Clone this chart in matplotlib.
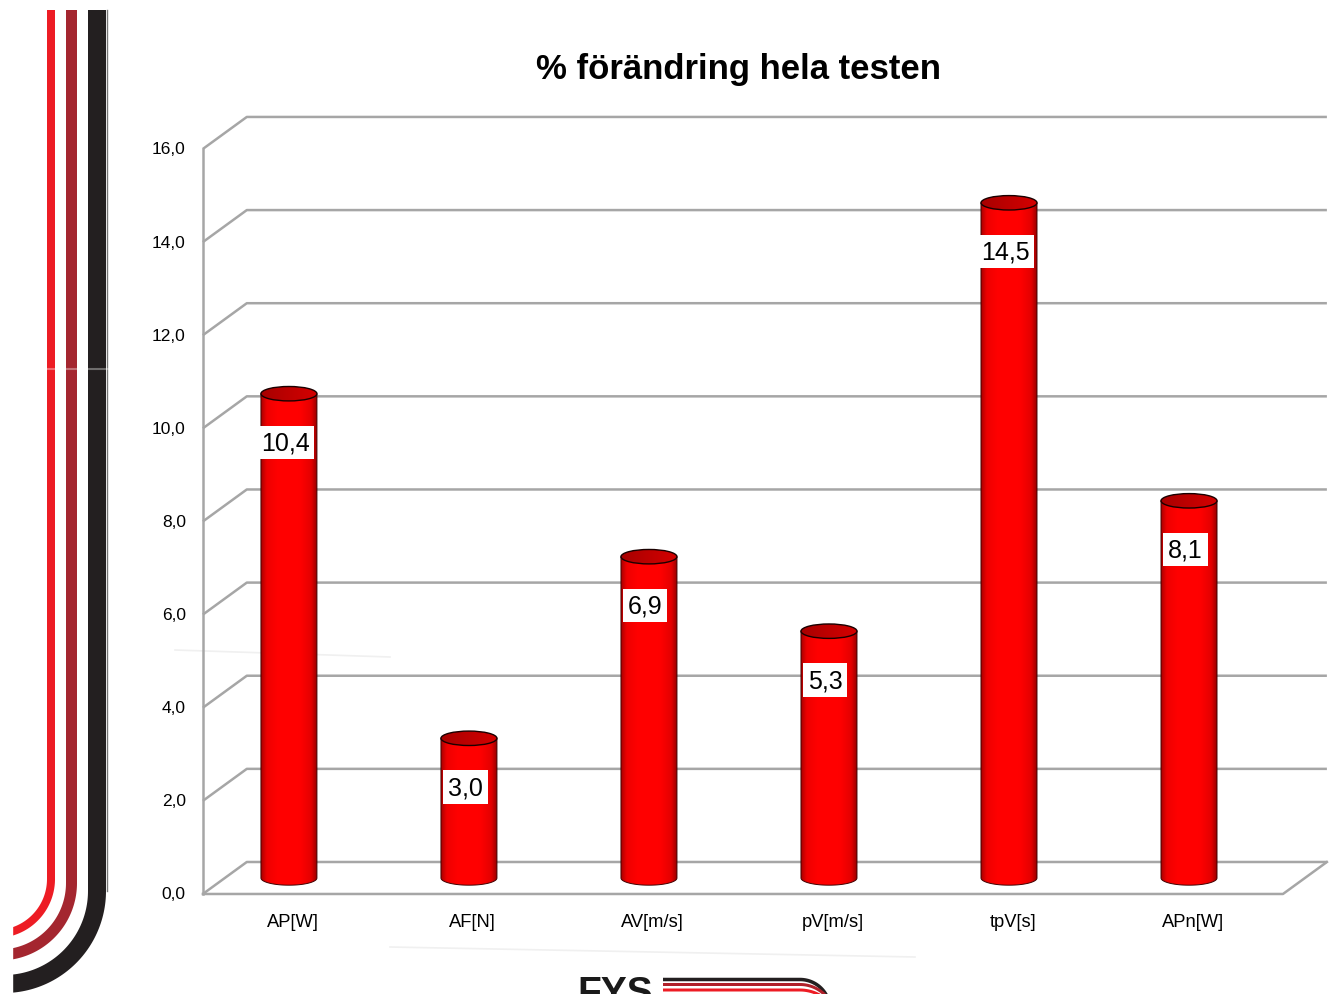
""" 3D cylinder column chart with the FYS page frame """
import numpy as np
import matplotlib.pyplot as plt
from matplotlib.patches import Polygon, Ellipse
from matplotlib.colors import LinearSegmentedColormap

plt.rcParams['font.family'] = ['Liberation Sans', 'DejaVu Sans']

categories = ['AP[W]', 'AF[N]', 'AV[m/s]', 'pV[m/s]', 'tpV[s]', 'APn[W]']
values = [10.4, 3.0, 6.9, 5.3, 14.5, 8.1]
y_ticks = [0, 2, 4, 6, 8, 10, 12, 14, 16]
title = '% förändring hela testen'

W, H = 1335, 995
DX, DY = 0.244, 0.687        # offset of the back wall (data units)
BAR_W = 0.311
ELL_H = 0.31
X_LEFT, X_RIGHT = -0.356, 5.644
GRID = '#a6a6a6'

cyl_cmap = LinearSegmentedColormap.from_list('cyl', [
    (0.0, '#a80000'), (0.1, '#ee0000'), (0.3, '#ff0000'),
    (0.7, '#ff0000'), (0.9, '#e40000'), (1.0, '#9a0000')])
top_cmap = LinearSegmentedColormap.from_list('top', ['#a80000', '#d40000'])


def fmt(v):
    return f'{v:.1f}'.replace('.', ',')


def main():
    fig = plt.figure(figsize=(W / 100, H / 100), dpi=100)
    draw_frame(fig)

    ax = fig.add_axes([0, 0, 1, 1])
    ax.patch.set_alpha(0)
    ax.axis('off')

    # walls and floor
    for t in y_ticks:
        ax.plot([X_LEFT, X_LEFT + DX, X_RIGHT + DX], [t, t + DY, t + DY],
                color=GRID, lw=1.8, zorder=1, solid_capstyle='butt')
        ax.text(X_LEFT - 0.095, t, fmt(t), ha='right', va='center', fontsize=12.5)
    ax.plot([X_LEFT, X_RIGHT, X_RIGHT + DX], [0, 0, DY], color=GRID, lw=1.8, zorder=1)
    ax.plot([X_LEFT, X_LEFT], [0, y_ticks[-1]], color=GRID, lw=1.8, zorder=1)

    grad = np.linspace(0, 1, 256).reshape(1, -1)
    theta = np.linspace(np.pi, 2 * np.pi, 80)
    for i, v in enumerate(values):
        cx = i + DX / 2
        base = DY / 2
        top = v + DY / 2
        x0, x1 = cx - BAR_W / 2, cx + BAR_W / 2
        bx = cx + BAR_W / 2 * np.cos(theta)
        by = base + ELL_H / 2 * np.sin(theta)
        outline = np.column_stack([np.r_[bx, x1, x0], np.r_[by, top, top]])
        body = Polygon(outline, closed=True, fc='none', ec='none')
        ax.add_patch(body)
        im = ax.imshow(grad, extent=[x0, x1, base - ELL_H / 2, top], aspect='auto',
                       cmap=cyl_cmap, interpolation='bicubic', zorder=3)
        im.set_clip_path(body)
        ax.add_patch(Polygon(outline, closed=True, fc='none', ec='#400000', lw=0.7, zorder=4))

        cap = Ellipse((cx, top), BAR_W, ELL_H, fc='none', ec='none')
        ax.add_patch(cap)
        tim = ax.imshow(grad, extent=[x0, x1, top - ELL_H / 2, top + ELL_H / 2],
                        aspect='auto', cmap=top_cmap, interpolation='bicubic', zorder=5)
        tim.set_clip_path(cap)
        ax.add_patch(Ellipse((cx, top), BAR_W, ELL_H, fc='none', ec='#1a0000',
                             lw=1.0, zorder=5))

        ax.text(cx - 0.02, v + DY / 2 - 1.05, fmt(v), ha='center', va='center',
                fontsize=18, zorder=6,
                bbox=dict(fc='white', ec='none', pad=3.5))
        ax.text(i + DX / 2 + 0.02, -0.6, categories[i], ha='center', va='center',
                fontsize=13.2)

    ax.set_xlim(-1.483, 5.933)
    ax.set_ylim(-2.148, 19.22)

    fig.text(738 / W, 1 - 69 / H, title, ha='center', va='center',
             fontsize=25, fontweight='bold')

    fig.savefig('out.png', dpi=100)


def draw_frame(fig):
    """ red / dark red / black stripes on the left and the logo at the bottom """
    deco = fig.add_axes([0, 0, 1, 1])
    deco.set_xlim(0, W)
    deco.set_ylim(H, 0)
    deco.axis('off')

    # (x, width px, colour, curve start y, radius)
    stripes = [(51, 8, '#ed1c24', 880, 55),
               (71.5, 11, '#a4262f', 884, 72),
               (97, 18, '#231f20', 892, 93)]
    for x, w, col, cy, r in stripes:
        th = np.linspace(0, np.pi / 2, 60)
        xs = np.r_[x, x - r + r * np.cos(th)]
        ys = np.r_[11, cy + r * np.sin(th)]
        deco.plot(xs, ys, color=col, lw=w * 0.72, solid_capstyle='butt', zorder=2)
    deco.plot([106.8, 106.8], [11, 892], color='#777777', lw=1.0, zorder=1)
    deco.plot([44, 109], [370, 370], color='white', lw=1.5, alpha=0.35, zorder=3)
    deco.fill_between([0, 12], 0, H, color='white', zorder=4)

    # faint scan lines
    deco.plot([175, 390], [651, 658], color='#f0f0f0', lw=1.2)
    deco.plot([390, 915], [948, 958], color='#f0f0f0', lw=1.2)

    # logo
    deco.text(577, 1004, 'FYS', fontsize=28, fontweight='bold', color='#1a1a1a',
              ha='left', va='baseline')
    for y, w, col in [(980.5, 3.5, '#231f20'), (985.5, 3.0, '#b0202a'), (991, 3.0, '#ed1c24')]:
        r = 30 + (y - 980.5)
        th = np.linspace(np.pi / 2, 0, 30)
        xs = np.r_[663, 800 + r * np.cos(th)]
        ys = np.r_[y, y + r - r * np.sin(th)]
        deco.plot(xs, ys, color=col, lw=w * 0.72, solid_capstyle='butt')


main()
